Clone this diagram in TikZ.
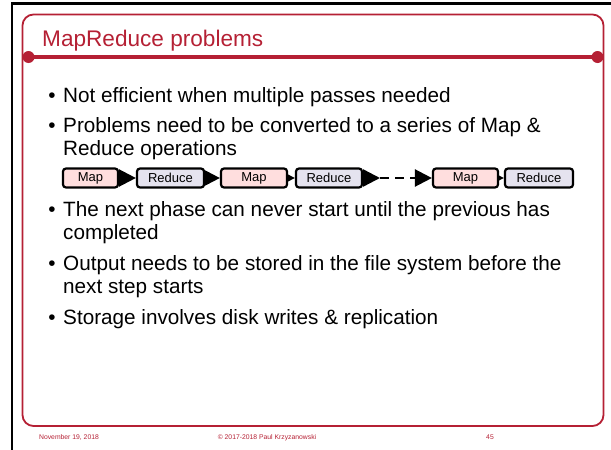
\documentclass[tikz,border=0pt]{standalone}
\usepackage{fontspec}
\setmainfont{Liberation Sans}
\usetikzlibrary{arrows.meta,backgrounds}
\definecolor{slred}{RGB}{181,32,52}
\definecolor{mapfill}{RGB}{255,222,222}
\definecolor{redfill}{RGB}{229,227,239}
\tikzset{
  bul/.style={anchor=base west, inner sep=0pt, font=\fontsize{20.7}{24}\selectfont, text=black},
  dotb/.style={anchor=base, inner sep=0pt, font=\fontsize{20.7}{24}\selectfont, text=black},
  fbox/.style={draw=black, line width=2.2pt, rounded corners=3pt, minimum height=19pt, inner sep=0pt, font=\fontsize{13}{15}\selectfont},
  mapbox/.style={fbox, fill=mapfill},
  redbox/.style={fbox, fill=redfill},
  flowarrow/.style={line width=2.4pt, -{Triangle[length=17pt,width=17pt]}},
  foot/.style={inner sep=0pt, anchor=base, text=slred, font=\fontsize{6.8}{8}\selectfont},
}
\begin{document}
\begin{tikzpicture}[x=1pt,y=-1pt]
\useasboundingbox (0,0) rectangle (611,450);
% black frame
\draw[line width=2.5pt] (12,450) -- (12,3.5) -- (611,3.5);
% red frame
\draw[slred, line width=1.8pt, rounded corners=11pt] (22.5,14.5) rectangle (603.5,426);
\draw[slred, line width=3.5pt] (23,57) -- (603,57);
\fill[slred] (28.5,57) circle (6pt) (597.5,57) circle (6pt);
% title
\node[anchor=base west, inner sep=0pt, text=slred, font=\fontsize{22.6}{26}\selectfont] (title) at (42,46) {MapReduce problems};
% bullets
\node[dotb] (d1) at (52,102) {•};
\node[bul] (b1) at (63,102) {Not efficient when multiple passes needed};
\node[dotb] (d2) at (52,132) {•};
\node[bul] (b2a) at (63,132) {Problems need to be converted to a series of Map \&};
\node[bul] (b2b) at (63,155) {Reduce operations};
\node[dotb] (d3) at (52,216) {•};
\node[bul] (b3a) at (63,216) {The next phase can never start until the previous has};
\node[bul] (b3b) at (63,239) {completed};
\node[dotb] (d4) at (52,270) {•};
\node[bul] (b4a) at (63,270) {Output needs to be stored in the file system before the};
\node[bul] (b4b) at (63,293) {next step starts};
\node[dotb] (d5) at (52,324) {•};
\node[bul] (b5) at (63,324) {Storage involves disk writes \& replication};
% flow
\node[mapbox, minimum width=55pt] (m1) at (90.5,178) {Map};
\node[redbox, minimum width=67pt] (r1) at (170.5,178) {Reduce};
\node[mapbox, minimum width=66pt] (m2) at (254,178) {Map};
\node[redbox, minimum width=66pt] (r2) at (329,178) {Reduce};
\node[mapbox, minimum width=65pt] (m3) at (465.5,178) {Map};
\node[redbox, minimum width=68pt] (r3) at (539,178) {Reduce};
\coordinate (dd) at (380,178);
\begin{pgfonlayer}{background}
\draw[flowarrow] (m1.east) -- (r1.west);
\draw[flowarrow] (r1.east) -- (m2.west);
\draw[flowarrow] (m2.east) -- (r2.west);
\draw[flowarrow] (r2.east) -- (dd);
\draw[flowarrow, dash pattern=on 9pt off 6pt] (dd) -- (m3.west);
\draw[flowarrow] (m3.east) -- (r3.west);
\end{pgfonlayer}
% footer
\node[foot] (f1) at (69,439) {November 19, 2018};
\node[foot] (f2) at (267,439) {© 2017-2018 Paul Krzyzanowski};
\node[foot] (f3) at (490,439) {45};
\end{tikzpicture}
\end{document}
